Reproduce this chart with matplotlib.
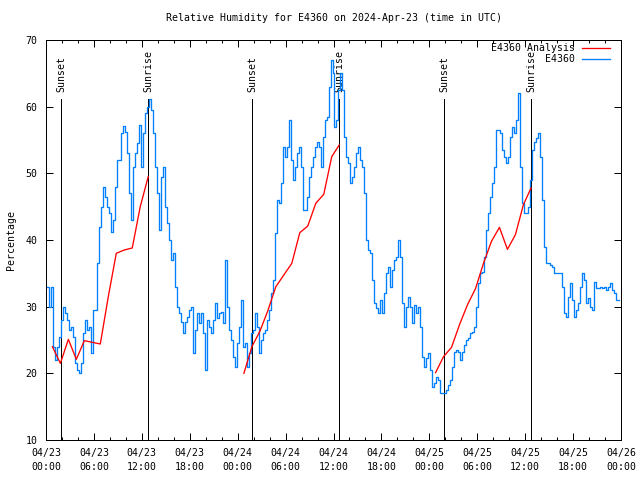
import numpy as np
import matplotlib
matplotlib.use('Agg')
import matplotlib.pyplot as plt
from matplotlib.ticker import MultipleLocator

plt.rcParams['font.family'] = ['DejaVu Sans Mono']
FS = 7.1

# ---- data ----
step_hours = 0.25  # observation interval (hours since 04/23 00:00 UTC)
obs_values = [
    33, 33, 30, 33, 24, 22, 24, 25.5, 28, 30,
    29, 28, 26.5, 27, 25.5, 21.5, 20.5, 20.1, 21.5, 26,
    28, 26.5, 27, 23, 29.5, 29.5, 36.5, 42, 45, 48,
    46.5, 45, 44, 41.25, 43, 48, 52, 52, 56, 57.1,
    56.25, 53, 47, 43, 51, 53, 54.5, 57.25, 51, 56,
    59, 60, 61.1, 59.5, 56, 51, 47, 41.5, 49.5, 51,
    45, 42.5, 40, 37, 38, 33, 30, 29, 27.75, 26,
    27.75, 28.5, 29.5, 30, 23, 26.5, 29, 27.5, 29, 26,
    20.5, 28, 27, 26, 28, 30.5, 28.25, 29, 29.25, 27.5,
    37, 30, 26.5, 25, 22.5, 21, 24.5, 27, 31, 24,
    24.5, 21, 23, 26, 26.5, 29, 27, 23, 25, 26,
    26.5, 28, 29.5, 32, 34, 41, 46, 45.5, 48.5, 54,
    52.5, 54, 58, 52, 49, 51, 53, 54, 51, 44.5,
    44.5, 46.5, 49.5, 51, 52.5, 54, 54.75, 54, 51, 55.5,
    58, 58.5, 63, 67, 65, 57, 58, 62.5, 65, 62.5,
    55.5, 52.5, 51.5, 48.5, 49.5, 51, 53, 54, 52, 51,
    47, 40, 38.5, 38, 34, 30.5, 29.75, 29, 31, 29,
    32, 35, 36, 33, 35.5, 37, 37.5, 40, 37.5, 30.5,
    27, 30, 31.5, 30, 27.5, 30.25, 29, 30, 27, 22.5,
    21, 22.25, 23, 20.5, 18, 18.5, 19.5, 19, 17, 17,
    17, 17.5, 18.25, 19, 21, 23.25, 23.5, 23.25, 22, 23.25,
    24.25, 25, 25.25, 26, 26.25, 27, 30, 33.5, 35, 35.25,
    37.5, 41.5, 44, 46.5, 48.5, 51, 56.5, 56.5, 56, 53.5,
    52.5, 51.5, 52.5, 55.5, 57, 56, 58, 62, 51, 45.5,
    44, 44, 45, 49, 53.5, 54.75, 55.25, 56, 52.5, 46,
    39, 36.5, 36.5, 36.25, 36, 35, 35, 35, 35, 33,
    29, 28.5, 31.5, 33.5, 31, 28.5, 29.5, 30.5, 33, 35,
    34, 30.5, 31.25, 30, 29.5, 33.75, 32.75, 32.75, 33, 32.75,
    33, 32.5, 33, 33.5, 32.5, 32, 31, 31,
]
obs_hours = np.arange(len(obs_values)) * step_hours

analysis_night1_hours = [0.8, 1.8, 2.8, 3.8, 4.8, 5.8, 6.8, 7.8, 8.8, 9.8, 10.8, 11.8, 12.8]
analysis_night1_values = [24.0, 21.5, 25.1, 22.1, 24.9, 24.65, 24.4, 31.5, 38.0, 38.5, 38.8, 45.0, 49.5]
analysis_night2_hours = [24.78, 25.78, 26.78, 27.78, 28.78, 29.78, 30.78, 31.78, 32.78, 33.78, 34.78, 35.78, 36.72]
analysis_night2_values = [20.0, 24.0, 26.3, 29.4, 33.0, 34.75, 36.5, 41.1, 42.1, 45.5, 46.85, 52.5, 54.25]
analysis_night3_hours = [48.78, 49.78, 50.78, 51.78, 52.78, 53.78, 54.78, 55.78, 56.78, 57.78, 58.78, 59.78, 60.74]
analysis_night3_values = [20.1, 22.5, 23.9, 27.3, 30.3, 32.7, 36.5, 39.8, 41.9, 38.6, 40.8, 45.3, 47.8]

sunset_hours = [1.92, 25.83, 49.85]
sunrise_hours = [12.80, 36.72, 60.74]

tick_hours = list(range(0, 73, 6))
tick_labels = ['04/23\n00:00', '04/23\n06:00', '04/23\n12:00', '04/23\n18:00',
               '04/24\n00:00', '04/24\n06:00', '04/24\n12:00', '04/24\n18:00',
               '04/25\n00:00', '04/25\n06:00', '04/25\n12:00', '04/25\n18:00',
               '04/26\n00:00']
y_ticks = [10, 20, 30, 40, 50, 60, 70]

# ---- figure ----
fig = plt.figure(figsize=(6.4, 4.8), dpi=100)
ax = fig.add_axes([46/640, 40/480, 575/640, 400/480])

LW = 0.72
DLW = 0.95

# sun event lines
for h in sunset_hours:
    ax.vlines(h, 10, 61.1, color='black', lw=LW, zorder=1, antialiased=False)
    ax.text(h, 62.2, 'Sunset', rotation=90, ha='center', va='bottom', fontsize=FS, zorder=1)
for h in sunrise_hours:
    ax.vlines(h, 10, 61.1, color='black', lw=LW, zorder=1, antialiased=False)
    ax.text(h, 62.2, 'Sunrise', rotation=90, ha='center', va='bottom', fontsize=FS, zorder=1)

an_h = analysis_night1_hours + [np.nan] + analysis_night2_hours + [np.nan] + analysis_night3_hours
an_v = analysis_night1_values + [np.nan] + analysis_night2_values + [np.nan] + analysis_night3_values

ax.plot(an_h, an_v, color='#ff0000', lw=DLW, label='E4360 Analysis', zorder=3)
ax.plot(obs_hours, obs_values, color='#0080ff', lw=DLW, label='E4360', drawstyle='steps-mid',
        zorder=2)

ax.set_xlim(0, 72)
ax.set_ylim(10, 70)
ax.set_xticks(tick_hours)
ax.set_xticklabels(tick_labels, fontsize=FS, linespacing=1.45)
ax.xaxis.set_minor_locator(MultipleLocator(2))
ax.set_yticks(y_ticks)
ax.set_yticklabels([str(v) for v in y_ticks], fontsize=FS)
ax.tick_params(which='both', direction='in', top=True, right=True, width=LW)
ax.tick_params(which='major', length=5, pad=6)
ax.tick_params(which='minor', length=2.5)
for s in ax.spines.values():
    s.set_linewidth(LW)

ax.set_title('Relative Humidity for E4360 on 2024-Apr-23 (time in UTC)', fontsize=FS, pad=14)
ax.set_ylabel('Percentage', fontsize=FS)
ax.yaxis.set_label_coords(-0.052, 0.5)

leg = ax.legend(loc='upper right', bbox_to_anchor=(609.5/640, 1 - 43/480),
                bbox_transform=fig.transFigure, frameon=False, markerfirst=False,
                fontsize=FS, borderpad=0, borderaxespad=0, handlelength=2.75,
                handletextpad=0.75, labelspacing=0.15)

fig.savefig('out.png', dpi=100)
